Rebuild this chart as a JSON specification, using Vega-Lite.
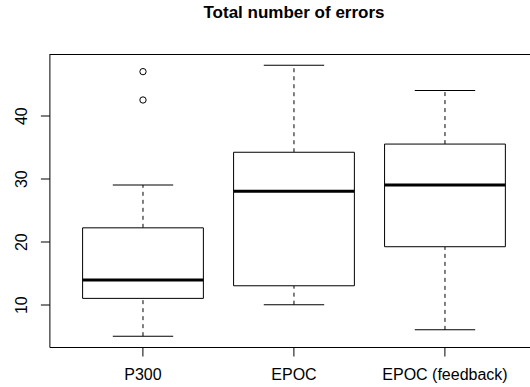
{
  "$schema": "https://vega.github.io/schema/vega-lite/v6.json",
  "width": 480.6,
  "height": 292.5,
  "autosize": {"type": "none"},
  "padding": {"left": 49.4, "top": 54.5, "right": 0, "bottom": 40},
  "title": {"text": "Total number of errors", "font": "Liberation Sans", "fontSize": 17, "fontWeight": "bold", "anchor": "middle", "offset": 32, "dx": 4.3, "color": "black"},
  "datasets": {
    "stats": [
      {"group": "P300", "lower": 5, "q1": 11, "median": 13.9, "q3": 22.2, "upper": 29},
      {"group": "EPOC", "lower": 10, "q1": 13, "median": 28, "q3": 34.2, "upper": 48},
      {"group": "EPOC (feedback)", "lower": 6, "q1": 19.2, "median": 29, "q3": 35.5, "upper": 44}
    ],
    "outliers": [
      {"group": "P300", "value": 47},
      {"group": "P300", "value": 42.5}
    ],
    "frame": [{"top": 49.72}]
  },
  "config": {
    "view": {"stroke": null},
    "font": "Liberation Sans",
    "axis": {"grid": false, "domain": true, "domainColor": "black", "domainWidth": 1, "tickColor": "black", "tickWidth": 1, "tickSize": 9, "labelFont": "Liberation Sans", "labelFontSize": 16, "labelColor": "black"},
    "axisX": {"labelAngle": 0, "labelPadding": 10},
    "axisY": {"labelAngle": -90, "labelAlign": "center", "labelBaseline": "alphabetic", "labelPadding": 13.5}
  },
  "encoding": {
    "x": {"field": "group", "type": "nominal", "sort": ["P300", "EPOC", "EPOC (feedback)"], "title": null,
          "scale": {"paddingInner": 0.2, "paddingOuter": 0.1915, "align": 0.574}}
  },
  "layer": [
    {
      "data": {"name": "stats"},
      "mark": {"type": "rule", "color": "black", "strokeWidth": 1, "strokeDash": [4, 4]},
      "encoding": {
        "y": {"field": "q3", "type": "quantitative", "title": null, "scale": {"domain": [3.28, 49.72], "nice": false, "zero": false}, "axis": {"values": [10, 20, 30, 40]}},
        "y2": {"field": "upper"}
      }
    },
    {
      "data": {"name": "stats"},
      "mark": {"type": "rule", "color": "black", "strokeWidth": 1, "strokeDash": [4, 4]},
      "encoding": {
        "y": {"field": "lower", "type": "quantitative", "title": null, "axis": {"values": [10, 20, 30, 40]}},
        "y2": {"field": "q1"}
      }
    },
    {
      "data": {"name": "stats"},
      "mark": {"type": "tick", "color": "black", "size": 60.4, "thickness": 1, "opacity": 1},
      "encoding": {"y": {"field": "upper", "type": "quantitative", "title": null, "axis": {"values": [10, 20, 30, 40]}}}
    },
    {
      "data": {"name": "stats"},
      "mark": {"type": "tick", "color": "black", "size": 60.4, "thickness": 1, "opacity": 1},
      "encoding": {"y": {"field": "lower", "type": "quantitative", "title": null, "axis": {"values": [10, 20, 30, 40]}}}
    },
    {
      "data": {"name": "stats"},
      "mark": {"type": "bar", "fill": "white", "stroke": "black", "strokeWidth": 1},
      "encoding": {
        "y": {"field": "q1", "type": "quantitative", "title": null, "axis": {"values": [10, 20, 30, 40]}},
        "y2": {"field": "q3"}
      }
    },
    {
      "data": {"name": "stats"},
      "mark": {"type": "tick", "color": "black", "size": 120.8, "thickness": 3, "opacity": 1},
      "encoding": {"y": {"field": "median", "type": "quantitative", "title": null, "axis": {"values": [10, 20, 30, 40]}}}
    },
    {
      "data": {"name": "outliers"},
      "mark": {"type": "point", "shape": "circle", "filled": false, "stroke": "black", "strokeWidth": 1, "size": 40, "opacity": 1},
      "encoding": {"y": {"field": "value", "type": "quantitative", "title": null, "axis": {"values": [10, 20, 30, 40]}}}
    },
    {
      "data": {"name": "frame"},
      "mark": {"type": "rule", "color": "black", "strokeWidth": 1},
      "encoding": {"y": {"field": "top", "type": "quantitative", "title": null, "axis": {"values": [10, 20, 30, 40]}}, "x": null}
    }
  ]
}
